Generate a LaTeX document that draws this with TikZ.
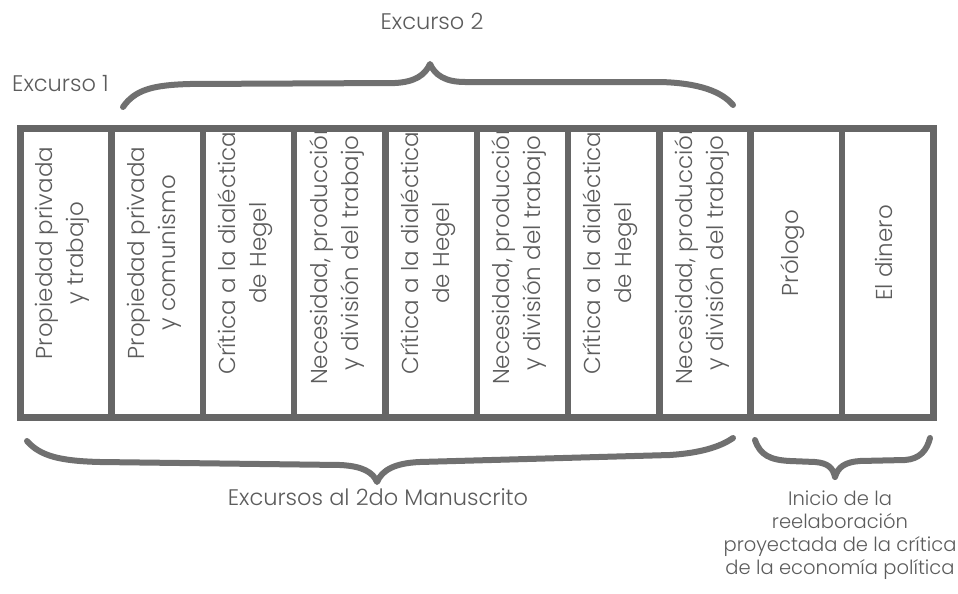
\documentclass[tikz,border=0pt]{standalone}
\usepackage{fontspec}
\setmainfont{Poppins}[UprightFont=* Light]
\definecolor{boxgray}{HTML}{666666}
\definecolor{txtgray}{HTML}{5c5c5c}
\definecolor{bracegray}{HTML}{707070}
\begin{document}
\begin{tikzpicture}[x=1pt,y=-1pt,
  cellbox/.style={draw=boxgray, line width=6.5pt, minimum width=91.3pt, minimum height=289pt, inner sep=0pt, anchor=north west},
  celltext/.style={rotate=90, align=center, text=txtgray, font=\fontsize{23}{31}\selectfont, inner sep=0pt},
  lbl/.style={text=txtgray, font=\fontsize{22.5}{23}\selectfont, inner sep=0pt},
  brace/.style={draw=bracegray, line width=6pt, line cap=round, line join=round}]
\fill[white] (0,0) rectangle (958,594);
\useasboundingbox (0,0) rectangle (958,594);
% texts inside the cells, clipped to the frame
\begin{scope}
\clip (17,125) rectangle (930,414);
\foreach \i/\t in {1/{Propiedad privada\\y trabajo},
                   2/{Propiedad privada\\y comunismo},
                   3/{Crítica a la dialéctica\\de Hegel},
                   4/{Necesidad, producción\\y división del trabajo},
                   5/{Crítica a la dialéctica\\de Hegel},
                   6/{Necesidad, producción\\y división del trabajo},
                   7/{Crítica a la dialéctica\\de Hegel},
                   8/{Necesidad, producción\\y división del trabajo},
                   9/{Prólogo},
                   10/{El dinero}}{
  \node[celltext] (t\i) at ({17+91.3*(\i-0.5)},253) {\t};
}
\end{scope}
% cells
\foreach \i in {1,...,10}{
  \node[cellbox] (c\i) at ({17+91.3*(\i-1)},125) {};
}
% labels
\node[lbl, anchor=west] (ex1) at (12,84) {Excurso 1};
\node[lbl] (ex2) at (432,21) {Excurso 2};
\node[lbl] (exm) at (378,497) {Excursos al 2do Manuscrito};
\node[lbl, align=center, font=\fontsize{19.5}{23}\selectfont] (ini) at (840,535) {Inicio de la\\reelaboración\\proyectada de la crítica\\de la economía política};
% top brace (Excurso 2)
\draw[brace] (123,107) .. controls (135,90) and (152,85) .. (190,84)
  -- (395,83) .. controls (415,82) and (425,75) .. (430,64)
  .. controls (435,75) and (445,82) .. (465,82)
  -- (660,82) .. controls (700,83) and (722,92) .. (733,105);
% bottom brace (Excursos al 2do Manuscrito)
\draw[brace] (27,441) .. controls (40,456) and (60,461) .. (100,462)
  -- (340,465) .. controls (362,466) and (373,472) .. (377,482)
  .. controls (382,470) and (395,463) .. (420,462)
  -- (670,455) .. controls (700,453) and (720,447) .. (733,438);
% small brace (Inicio de la reelaboracion)
\draw[brace] (755,440) .. controls (760,455) and (770,460) .. (790,461)
  -- (815,462) .. controls (828,463) and (833,468) .. (835,477)
  .. controls (838,467) and (845,462) .. (860,461)
  -- (905,460) .. controls (920,459) and (927,450) .. (930,438);
\end{tikzpicture}
\end{document}
